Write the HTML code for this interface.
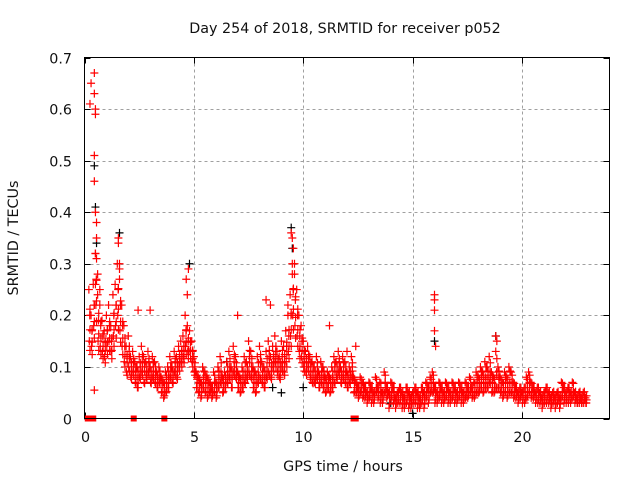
<!DOCTYPE html>
<html><head><meta charset="utf-8"><style>
html,body{margin:0;padding:0;background:#fff;}
svg{display:block;font-family:"DejaVu Sans","Liberation Sans",sans-serif;}
</style></head><body>
<svg id="chart" width="640" height="480" viewBox="0 0 640 480">
<rect width="640" height="480" fill="#fff"/>
<text x="345" y="33" font-size="14.3" text-anchor="middle" fill="#111">Day 254 of 2018, SRMTID for receiver p052</text>
<text transform="translate(18,238) rotate(-90)" font-size="14.3" text-anchor="middle" fill="#111">SRMTID / TECUs</text>
<text x="343" y="471" font-size="14.3" text-anchor="middle" fill="#111">GPS time / hours</text>
<g id="grid"></g>
<g id="ticks"></g>
<g id="marks"></g>
<rect x="84.5" y="57.5" width="525" height="361" fill="none" stroke="#000" stroke-width="1"/>
</svg>
<script>
const xTicks=[0,5,10,15,20];
const yTicks=[0,0.1,0.2,0.3,0.4,0.5,0.6,0.7];
const yTickLabels=["0","0.1","0.2","0.3","0.4","0.5","0.6","0.7"];
const binStart=0.2, binStep=0.1;
const redA=[.25,.20,.26,.32,.24,.22,.19,.17,.20,.22,
.18,.24,.26,.30,.27,.22,.18,.14,.16,.12,
.13,.11,.10,.12,.14,.12,.11,.13,.10,.12,
.11,.09,.10,.08,.07,.09,.10,.12,.10,.13,
.12,.14,.15,.16,.20,.18,.17,.15,.12,.09,
.08,.07,.10,.09,.08,.07,.06,.09,.07,.10,
.12,.08,.09,.11,.13,.10,.14,.12,.09,.08,
.10,.12,.11,.15,.13,.10,.09,.12,.14,.11,
.10,.13,.15,.12,.14,.16,.13,.12,.15,.14,
.17,.20,.24,.30,.28,.25,.20,.18,.15,.13,
.14,.12,.11,.10,.12,.09,.11,.10,.08,.09,
.08,.10,.12,.11,.13,.10,.12,.11,.09,.10,
.12,.08,.07,.06,.08,.07,.06,.05,.07,.06,
.05,.08,.06,.07,.05,.09,.06,.05,.07,.06,
.04,.05,.06,.05,.04,.06,.05,.04,.05,.06,
.05,.04,.06,.05,.07,.06,.08,.09,.06,.05,
.07,.06,.05,.07,.06,.05,.07,.06,.05,.07,
.06,.05,.07,.06,.08,.06,.07,.09,.08,.10,
.09,.11,.10,.12,.09,.08,.13,.10,.08,.07,
.09,.08,.10,.09,.07,.06,.05,.06,.05,.06,
.08,.09,.07,.06,.05,.06,.05,.04,.05,.06,
.05,.04,.05,.04,.05,.04,.07,.06,.05,.06,
.05,.07,.05,.04,.05,.04,.05,.04];
const redB=[.15,.14,.18,.22,.15,.14,.13,.12,.14,.15,
.13,.16,.18,.20,.17,.14,.11,.09,.10,.08,
.09,.07,.06,.08,.09,.07,.08,.09,.07,.08,
.07,.06,.07,.05,.04,.05,.06,.08,.07,.09,
.08,.10,.11,.12,.14,.13,.13,.11,.09,.06,
.05,.04,.06,.05,.04,.05,.04,.05,.04,.06,
.07,.05,.06,.07,.08,.06,.09,.08,.06,.05,
.06,.07,.08,.09,.08,.06,.05,.07,.08,.07,
.06,.08,.09,.08,.10,.11,.09,.08,.10,.09,
.11,.13,.16,.20,.18,.16,.13,.12,.10,.09,
.10,.08,.07,.07,.08,.06,.07,.06,.05,.06,
.05,.06,.07,.08,.09,.07,.08,.07,.06,.07,
.08,.05,.05,.04,.05,.04,.04,.03,.04,.03,
.03,.05,.04,.03,.03,.05,.04,.02,.04,.03,
.02,.03,.03,.02,.02,.03,.02,.02,.03,.03,
.02,.02,.03,.02,.04,.03,.05,.05,.03,.03,
.04,.03,.03,.04,.03,.03,.04,.03,.03,.04,
.03,.03,.04,.04,.05,.04,.04,.05,.05,.06,
.05,.06,.06,.07,.05,.05,.06,.06,.05,.04,
.05,.04,.05,.05,.04,.04,.03,.04,.03,.03,
.04,.05,.04,.04,.03,.03,.03,.02,.03,.03,
.03,.02,.03,.02,.03,.02,.04,.03,.03,.03,
.03,.04,.03,.03,.03,.03,.03,.03];
const redC=[.20,.17,.22,.27,.19,.18,.16,.15,.17,.18,
.15,.20,.22,.25,.22,.18,.14,.12,.13,.10,
.11,.09,.08,.10,.11,.10,.09,.11,.08,.10,
.09,.08,.08,.07,.06,.07,.08,.10,.09,.11,
.10,.12,.13,.14,.17,.15,.15,.13,.10,.08,
.07,.06,.08,.07,.06,.06,.05,.07,.06,.08,
.09,.07,.08,.09,.10,.08,.11,.10,.08,.07,
.08,.09,.10,.12,.10,.08,.07,.09,.11,.09,
.08,.10,.12,.10,.12,.13,.11,.10,.12,.11,
.14,.16,.20,.25,.23,.20,.16,.15,.12,.11,
.12,.10,.09,.08,.10,.08,.09,.08,.07,.08,
.07,.08,.10,.09,.11,.09,.10,.09,.08,.09,
.10,.07,.06,.05,.06,.06,.05,.04,.05,.05,
.04,.06,.05,.05,.04,.07,.05,.04,.05,.05,
.03,.04,.05,.04,.03,.05,.04,.03,.04,.05,
.04,.03,.05,.04,.05,.05,.06,.07,.05,.04,
.05,.05,.04,.05,.05,.04,.05,.05,.04,.05,
.05,.04,.05,.05,.06,.05,.05,.07,.06,.08,
.07,.08,.08,.09,.07,.06,.09,.08,.06,.05,
.07,.06,.07,.07,.05,.05,.04,.05,.04,.04,
.06,.07,.05,.05,.04,.04,.04,.03,.04,.04,
.04,.03,.04,.03,.04,.03,.05,.04,.04,.04,
.04,.05,.04,.03,.04,.03,.04,.03];
const spikeT=[0.3,0.25,0.45,0.45,0.5,0.5,0.45,0.45,0.5,0.55,0.55,0.5,0.55,0.5,0.45,1.55,1.55,1.6,1.6,4.75,4.65,4.7,9.45,9.5,9.55,9.5,9.6,9.55,9.3,16.0,16.0,16.0,16.0,16.05,18.8,18.85,8.3,8.5,3.0,2.45,7.0,12.0,12.4,11.2,0.6,0.7];
const spikeV=[.65,.61,.67,.63,.59,.60,.51,.46,.40,.38,.35,.32,.31,.26,.055,.35,.34,.29,.30,.29,.27,.24,.36,.35,.33,.28,.30,.25,.22,.24,.23,.21,.17,.14,.16,.15,.23,.22,.21,.21,.20,.13,.14,.18,.28,.25];
const blackT=[0.45,0.5,0.55,1.6,4.8,9.45,9.5,16.0,18.8,15.0,9.0,8.6,10.0,6.5,14.0];
const blackV=[.49,.41,.34,.36,.30,.37,.33,.15,.16,.01,.05,.06,.06,.11,.03];
const zeroT=[0.15,0.4,2.25,3.65,12.3,12.4];

const X0=84.5,X1=609.5,Y0=418.5,Y1=57.5;
const sx=t=>X0+(t/24)*(X1-X0);
const sy=v=>Y0-(v/0.7)*(Y0-Y1);
const NS="http://www.w3.org/2000/svg";
const grid=document.getElementById('grid'),ticks=document.getElementById('ticks'),marks=document.getElementById('marks');
function mk(tag,attrs,parent){const e=document.createElementNS(NS,tag);for(const k in attrs)e.setAttribute(k,attrs[k]);parent.appendChild(e);return e;}
xTicks.forEach(t=>{
  const x=Math.round(sx(t))+0.5;
  if(t>0){const g=mk('line',{x1:x,x2:x,y1:Y1,y2:Y0,stroke:'#a0a0a0','stroke-dasharray':'3,3'},grid);
  
  }
  mk('line',{x1:x,x2:x,y1:Y0,y2:Y0-6,stroke:'#000'},ticks);
  mk('line',{x1:x,x2:x,y1:Y1,y2:Y1+6,stroke:'#000'},ticks);
  const l=mk('text',{x:x,y:442,'font-size':14.3,'text-anchor':'middle',fill:'#111'},ticks);
  l.textContent=String(t);
  
  
});
yTicks.forEach((v,i)=>{
  const y=Math.round(sy(v))+0.5;
  if(v>0&&v<0.7){const g=mk('line',{x1:X0,x2:X1,y1:y,y2:y,stroke:'#a0a0a0','stroke-dasharray':'3,3'},grid);
  
  }
  mk('line',{x1:X0,x2:X0+6,y1:y,y2:y,stroke:'#000'},ticks);
  mk('line',{x1:X1,x2:X1-6,y1:y,y2:y,stroke:'#000'},ticks);
  const l=mk('text',{x:72,y:y+5,'font-size':14.3,'text-anchor':'end',fill:'#111'},ticks);
  l.textContent=yTickLabels[i];
  
  
});
function cross(t,v,color,name){
  const x=sx(t),y=sy(v);
  const p=mk('path',{d:`M${x-4} ${y}H${x+4}M${x} ${y-4}V${y+4}`,stroke:color,'stroke-width':1.2,fill:'none'},marks);
  
  
}
blackT.forEach((t,i)=>cross(t,blackV[i],'#000','black-point'));
[redA,redB,redC].forEach((arr,k)=>arr.forEach((v,i)=>{
  const t=binStart+i*binStep;
  cross(t+k*0.02,v,'#ff0000','red-point');
  cross(t+0.05,v*0.8+0.012,'#ff0000','red-point');
}));
spikeT.forEach((t,i)=>cross(t,spikeV[i],'#ff0000','red-spike-point'));
zeroT.forEach(t=>{
  const r=mk('rect',{x:sx(t)-3,y:Y0-3,width:6,height:6,fill:'#ff0000'},marks);
  
  
});
</script>
</body></html>
